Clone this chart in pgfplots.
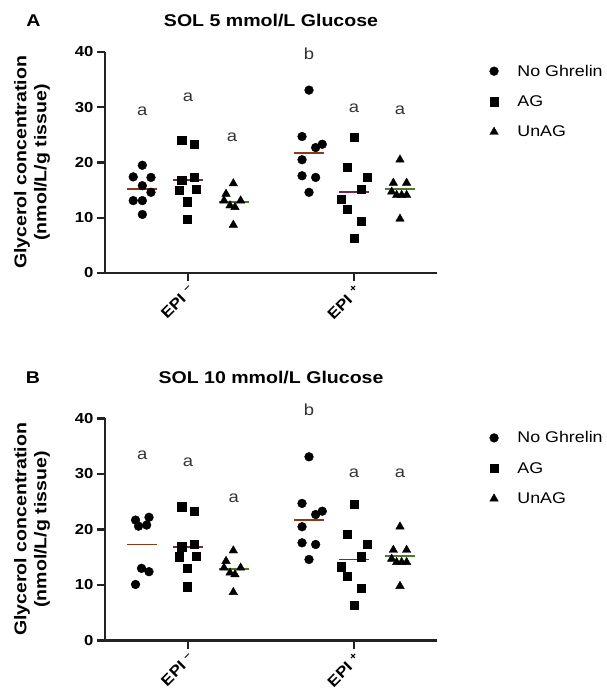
\documentclass[border=0pt]{standalone}
\usepackage{fontspec}
\setmainfont{Liberation Sans}[FakeStretch=1.15]
\usepackage{pgfplots}
\pgfplotsset{compat=1.18}
\definecolor{cbrown}{HTML}{8B3A17}
\definecolor{cpurple}{HTML}{7A2350}
\definecolor{cgreen}{HTML}{4C7A28}
\definecolor{axisgray}{HTML}{222222}
\pgfplotsset{gpstyle/.style={
  scale only axis, width=332pt,
  xmin=0.5, xmax=2.5, ymin=0, ymax=40,
  clip=false,
  axis lines*=left,
  axis line style={line width=2.3pt, color=axisgray},
  every tick/.style={line width=2.3pt, color=axisgray},
  tick align=outside, major tick length=8pt,
  xtick={1,2}, xticklabels={EPI \textsuperscript{–}, EPI \textsuperscript{+}},
  ytick={0,10,20,30,40},
  /pgf/number format/assume math mode=true,
  yticklabel style={font=\bfseries\fontsize{14.5}{14.5}\selectfont},
  xticklabel style={font=\bfseries\fontsize{15}{15}\selectfont, rotate=45, anchor=north east, inner sep=2pt},
  ylabel={Glycerol concentration\\(nmol/L/g tissue)},
  y label style={at={(axis description cs:-0.155,0.5)}, anchor=south, align=center,
    font=\bfseries\fontsize{17}{20}\selectfont},
  legend style={at={(axis description cs:1.158,0.776)}, anchor=west, draw=none, fill=none,
    inner sep=0pt, row sep=14pt, column sep=17pt,
    font=\fontsize{15.5}{15.5}\selectfont},
  legend cell align=left,
}}
\begin{document}
\begin{tikzpicture}[x=1pt,y=1pt]
\useasboundingbox (0,0) rectangle (607,693);
% ---------------- Panel A
\begin{axis}[gpstyle, height=221pt, at={(105pt,420pt)}, anchor=south west]
\addplot[only marks, mark=*, mark size=4.4pt, black] coordinates {
(0.725,19.5) (0.670,17.4) (0.777,17.3) (0.725,15.8) (0.777,14.6) (0.670,13.1) (0.725,13.1) (0.725,10.6)
(1.729,33.1) (1.687,24.7) (1.809,23.3) (1.769,22.7) (1.687,20.5) (1.687,17.6) (1.769,17.3) (1.729,14.6)};
\addlegendentry{No Ghrelin}
\addplot[only marks, mark=square*, mark size=4.1pt, black] coordinates {
(0.962,24.1) (1.038,23.3) (1.038,17.3) (0.962,16.8) (0.946,15.0) (1.051,15.1) (0.996,12.9) (0.996,9.7)
(2.002,24.6) (1.960,19.1) (2.080,17.3) (2.044,15.1) (1.922,13.3) (1.960,11.6) (2.044,9.4) (2.002,6.3)};
\addlegendentry{AG}
\addplot[only marks, mark=triangle*, mark size=4.9pt, black] coordinates {
(1.273,16.2) (1.229,14.3) (1.217,13.1) (1.317,13.1) (1.253,12.2) (1.283,11.9) (1.273,8.7)
(2.277,20.5) (2.237,16.3) (2.317,16.3) (2.227,14.7) (2.257,14.1) (2.287,14.1) (2.317,14.1) (2.277,9.8)};
\addlegendentry{UnAG}
\addplot[cbrown, line width=1.8pt, forget plot] coordinates {(0.635,15.2) (0.815,15.2)};
\addplot[cpurple, line width=1.8pt, forget plot] coordinates {(0.91,16.8) (1.09,16.8)};
\addplot[cgreen, line width=1.8pt, forget plot] coordinates {(1.185,12.9) (1.365,12.9)};
\addplot[cbrown, line width=1.8pt, forget plot] coordinates {(1.639,21.7) (1.819,21.7)};
\addplot[cpurple, line width=1.8pt, forget plot] coordinates {(1.91,14.6) (2.09,14.6)};
\addplot[cgreen, line width=1.8pt, forget plot] coordinates {(2.187,15.2) (2.367,15.2)};
\begin{scope}[every node/.style={font=\fontsize{16}{16}\selectfont, text=black!80}]
\node at (axis cs:0.725,29.3) {a};
\node at (axis cs:1.0,31.8) {a};
\node at (axis cs:1.265,24.5) {a};
\node at (axis cs:1.729,39.7) {b};
\node at (axis cs:2.0,29.8) {a};
\node at (axis cs:2.277,29.5) {a};
\end{scope}
\end{axis}
% ---------------- Panel B
\begin{axis}[gpstyle, height=222pt, at={(105pt,52.5pt)}, anchor=south west]
\addplot[only marks, mark=*, mark size=4.4pt, black] coordinates {
(0.684,21.7) (0.765,22.2) (0.702,20.6) (0.751,20.8) (0.720,13.0) (0.765,12.4) (0.684,10.1)
(1.729,33.1) (1.687,24.7) (1.809,23.3) (1.769,22.7) (1.687,20.5) (1.687,17.6) (1.769,17.3) (1.729,14.6)};
\addlegendentry{No Ghrelin}
\addplot[only marks, mark=square*, mark size=4.1pt, black] coordinates {
(0.962,24.1) (1.038,23.3) (1.038,17.3) (0.962,16.9) (0.946,15.1) (1.051,15.2) (0.996,13.0) (0.996,9.7)
(2.002,24.6) (1.960,19.1) (2.080,17.3) (2.044,15.1) (1.922,13.3) (1.960,11.6) (2.044,9.4) (2.002,6.3)};
\addlegendentry{AG}
\addplot[only marks, mark=triangle*, mark size=4.9pt, black] coordinates {
(1.273,16.2) (1.229,14.3) (1.217,13.1) (1.317,13.1) (1.253,12.2) (1.283,11.9) (1.273,8.7)
(2.277,20.5) (2.237,16.3) (2.317,16.3) (2.227,14.7) (2.257,14.1) (2.287,14.1) (2.317,14.1) (2.277,9.8)};
\addlegendentry{UnAG}
\addplot[cbrown, line width=1.8pt, forget plot] coordinates {(0.635,17.3) (0.815,17.3)};
\addplot[cpurple, line width=1.8pt, forget plot] coordinates {(0.91,16.9) (1.09,16.9)};
\addplot[cgreen, line width=1.8pt, forget plot] coordinates {(1.185,12.9) (1.365,12.9)};
\addplot[cbrown, line width=1.8pt, forget plot] coordinates {(1.639,21.7) (1.819,21.7)};
\addplot[cpurple, line width=1.8pt, forget plot] coordinates {(1.91,14.6) (2.09,14.6)};
\addplot[cgreen, line width=1.8pt, forget plot] coordinates {(2.187,15.2) (2.367,15.2)};
\begin{scope}[every node/.style={font=\fontsize{16}{16}\selectfont, text=black!80}]
\node at (axis cs:0.725,33.4) {a};
\node at (axis cs:1.0,32.2) {a};
\node at (axis cs:1.275,25.6) {a};
\node at (axis cs:1.729,41.5) {b};
\node at (axis cs:2.0,30.1) {a};
\node at (axis cs:2.277,30.1) {a};
\end{scope}
\end{axis}
% ---------------- panel letters and titles
\node[font=\bfseries\fontsize{17}{17}\selectfont] at (33.5,672) {A};
\node[font=\bfseries\fontsize{17}{17}\selectfont] at (271,672) {SOL 5 mmol/L Glucose};
\node[font=\bfseries\fontsize{17}{17}\selectfont] at (33,315.5) {B};
\node[font=\bfseries\fontsize{17}{17}\selectfont] at (271,315.5) {SOL 10 mmol/L Glucose};
\end{tikzpicture}
\end{document}
